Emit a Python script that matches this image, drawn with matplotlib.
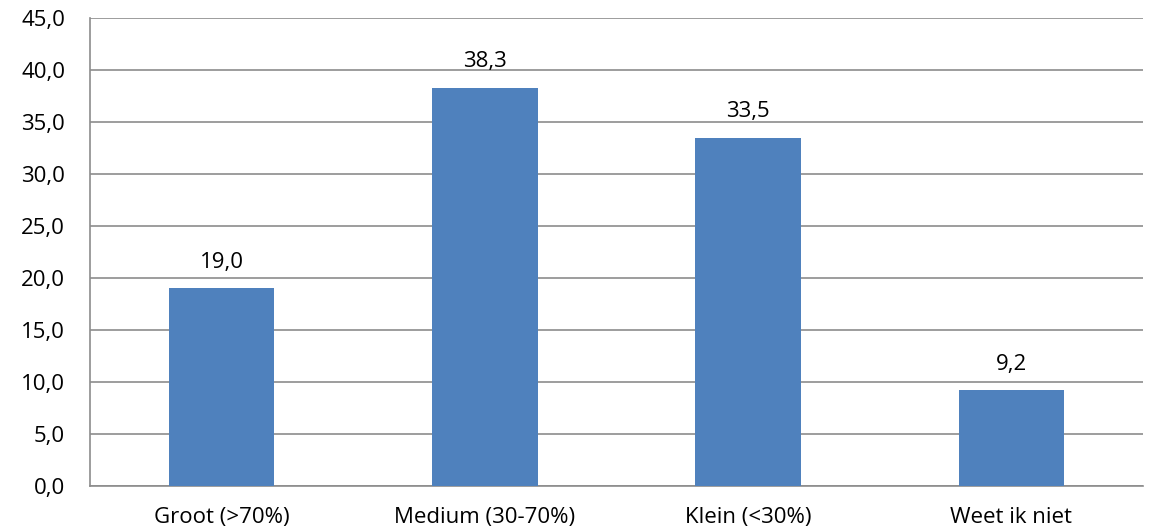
import numpy as np
import matplotlib
matplotlib.use("Agg")
import matplotlib.pyplot as plt

# --- data ---
categories = ["Groot (>70%)", "Medium (30-70%)", "Klein (<30%)", "Weet ik niet"]
values = [19.0, 38.3, 33.5, 9.2]

plt.rcParams["font.family"] = ["Open Sans", "DejaVu Sans"]

fig = plt.figure(figsize=(11.53, 5.32), dpi=100)
ax = fig.add_axes([90 / 1153, 1 - 486 / 532, (1143 - 90) / 1153, (486 - 18) / 532])

x = np.arange(len(categories))
ax.bar(x, values, width=0.4, color="#4F81BD", zorder=3)

for xi, v in zip(x, values):
    ax.text(xi, v + 1.5, f"{v:.1f}".replace(".", ","), ha="center", va="bottom",
            fontsize=16, color="black")

ax.set_xlim(-0.5, len(categories) - 0.5)
ax.set_ylim(0, 45)
ax.set_yticks(np.arange(0, 46, 5))
ax.set_yticklabels([f"{t:.1f}".replace(".", ",") for t in np.arange(0, 46, 5)])
ax.set_xticks(x)
ax.set_xticklabels(categories)
ax.tick_params(axis="both", length=0, labelsize=16, colors="black")
ax.tick_params(axis="y", pad=18)
ax.tick_params(axis="x", pad=15)

ax.yaxis.grid(True, color="#8C8C8C", linewidth=1.2, zorder=0)
for s in ["top", "right"]:
    ax.spines[s].set_visible(False)
ax.spines["left"].set_color("#8C8C8C")
ax.spines["bottom"].set_color("#8C8C8C")
ax.spines["left"].set_linewidth(1.2)
ax.spines["bottom"].set_linewidth(1.2)

fig.savefig("out.png", dpi=100)
